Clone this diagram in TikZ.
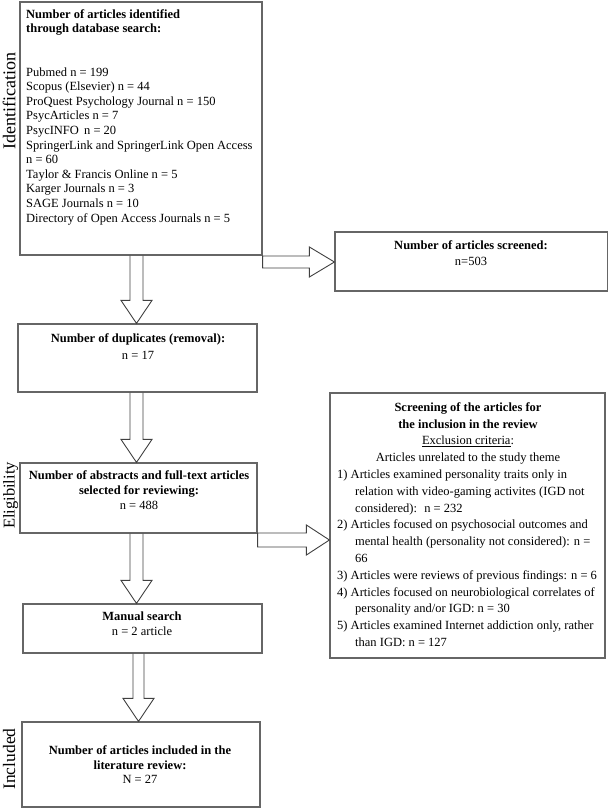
\documentclass[tikz,border=0pt]{standalone}
\usepackage{fontspec}
\setmainfont{Liberation Serif}
\usetikzlibrary{calc}
\newcommand\dblock[4]{\draw[blockarrow] let \p1=(#3), \p2=(#4) in (#1pt-#2pt,\y1) -- (#1pt-#2pt,\y2+23pt) -- (#1pt-15.5pt,\y2+23pt) -- (#1pt,\y2) -- (#1pt+15.5pt,\y2+23pt) -- (#1pt+#2pt,\y2+23pt) -- (#1pt+#2pt,\y1);}
\newcommand\rblock[5]{\draw[blockarrow] let \p1=(#4), \p2=(#5) in (\x1,#1pt+#2pt) -- (\x2-#3pt,#1pt+#2pt) -- (\x2-#3pt,#1pt+15pt) -- (\x2,#1pt) -- (\x2-#3pt,#1pt-15pt) -- (\x2-#3pt,#1pt-#2pt) -- (\x1,#1pt-#2pt) -- cycle;}
\begin{document}
\begin{tikzpicture}[x=1pt,y=1pt,
  box/.style={draw=black!60, line width=1.2pt, inner sep=0pt},
  blockarrow/.style={draw=black!75, line width=0.9pt},
  txt/.style={inner sep=0pt, text=black},
  side/.style={inner sep=0pt, rotate=90, anchor=base}]
\useasboundingbox (0,0) rectangle (609,-808);
% boxes
\node[box, minimum width=242pt, minimum height=253pt] (b1) at (141,-128.5) {};
\node[box, minimum width=272.5pt, minimum height=59pt] (b2) at (471.25,-261.5) {};
\node[box, minimum width=239pt, minimum height=68pt] (b3) at (137.5,-358) {};
\node[box, minimum width=237pt, minimum height=70pt] (b4) at (138.5,-498) {};
\node[box, minimum width=275pt, minimum height=265pt] (b5) at (467.5,-525.5) {};
\node[box, minimum width=239pt, minimum height=49pt] (b6) at (142.5,-628.5) {};
\node[box, minimum width=238pt, minimum height=85pt] (b7) at (141,-764.5) {};
% texts
\node[txt, anchor=north west, align=left, font=\fontsize{12.5}{14.6}\selectfont] (t1) at (26,-8.5)
 {\rule{0pt}{10pt}\textbf{Number of articles identified}\\[-1.2pt]
  \textbf{through database search:}\\[29.4pt]
  Pubmed n = 199\\
  Scopus (Elsevier) n = 44\\
  ProQuest Psychology Journal n = 150\\
  PsycArticles n = 7\\
  PsycINFO \,n = 20\\
  SpringerLink and SpringerLink Open Access\\
  n = 60\\
  Taylor \& Francis Online n = 5\\
  Karger Journals n = 3\\
  SAGE Journals n = 10\\
  Directory of Open Access Journals n = 5};
\node[txt, anchor=north, align=center, font=\fontsize{12.5}{16.4}\selectfont] (t2) at (471,-239.3)
 {\rule{0pt}{10pt}\textbf{Number of articles screened:}\\n=503};
\node[txt, anchor=north, align=center, font=\fontsize{12.5}{16.6}\selectfont] (t3) at (138,-332.5)
 {\rule{0pt}{10pt}\textbf{Number of duplicates (removal):}\\n = 17};
\node[txt, anchor=north, align=center, font=\fontsize{12.5}{14.85}\selectfont] (t4) at (139,-469.3)
 {\rule{0pt}{10pt}\textbf{Number of abstracts and full-text articles}\\\textbf{selected for reviewing:}\\n = 488};
\node[txt, anchor=north, align=center, font=\fontsize{12.5}{16.8}\selectfont] (t5a) at (468,-401)
 {\rule{0pt}{10pt}\textbf{Screening of the articles for}\\\textbf{the inclusion in the review}\\\underline{Exclusion criteria}:\\Articles unrelated to the study theme};
\node[txt, anchor=north west, align=left, font=\fontsize{12.5}{16.8}\selectfont] (t5b) at (337,-468.2)
 {\rule{0pt}{10pt}1) Articles examined personality traits only in\\
  \hspace*{18pt}relation with video-gaming activites (IGD not\\
  \hspace*{18pt}considered): \ n = 232\\
  2) Articles focused on psychosocial outcomes and\\
  \hspace*{18pt}mental health (personality not considered): n =\\
  \hspace*{18pt}66\\
  3) Articles were reviews of previous findings: n = 6\\
  4) Articles focused on neurobiological correlates of\\
  \hspace*{18pt}personality and/or IGD: n = 30\\
  5) Articles examined Internet addiction only, rather\\
  \hspace*{18pt}than IGD: n = 127};
\node[txt, anchor=north, align=center, font=\fontsize{12.5}{15}\selectfont] (t6) at (142,-610)
 {\rule{0pt}{10pt}\textbf{Manual search}\\n = 2 article};
\node[txt, anchor=north, align=center, font=\fontsize{12.5}{14.7}\selectfont] (t7) at (140,-744.3)
 {\rule{0pt}{10pt}\textbf{Number of articles included in the}\\\textbf{literature review:}\\N = 27};
% side labels
\node[side, font=\fontsize{18}{18}\selectfont] (s1) at (15.5,-101) {Identification};
\node[side, font=\fontsize{16.5}{16.5}\selectfont] (s2) at (14.5,-495.5) {Eligibility};
\node[side, font=\fontsize{17.5}{17.5}\selectfont] (s3) at (15,-759) {Included};
% block arrows
\dblock{136.5}{6.5}{b1.south}{b3.north}
\dblock{136.5}{6.5}{b3.south}{b4.north}
\dblock{136.5}{6.5}{b4.south}{b6.north}
\dblock{138.5}{5.5}{b6.south}{b7.north}
\rblock{-262}{6}{25}{b1.east}{b2.west}
\rblock{-540}{7}{23}{b4.east}{b5.west}
\end{tikzpicture}
\end{document}
